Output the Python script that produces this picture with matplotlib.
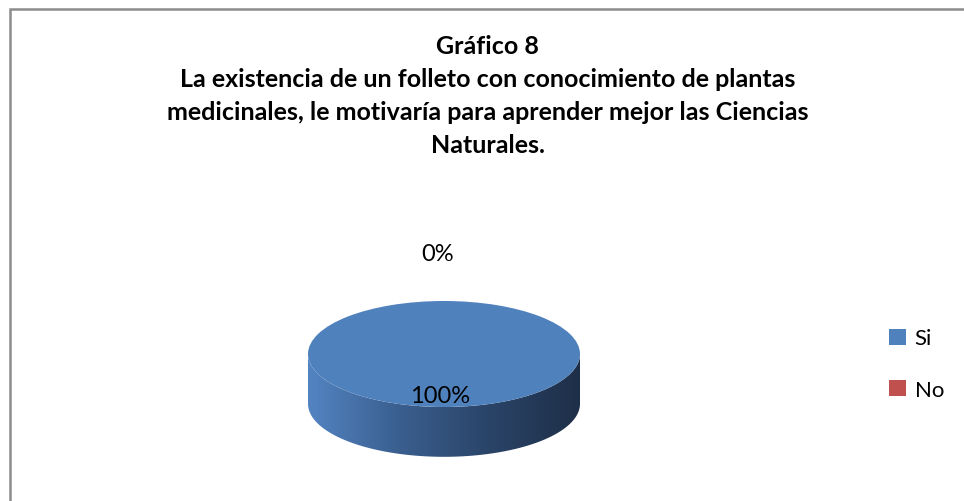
import numpy as np
import matplotlib.pyplot as plt
from matplotlib.patches import Rectangle
from matplotlib.path import Path
from matplotlib.colors import LinearSegmentedColormap

# data
categorias = ['Si', 'No']
valores = [100, 0]
colores = ['#4f81bd', '#c0504d']
titulo = ('Gráfico 8\nLa existencia de un folleto con conocimiento de plantas\n'
          'medicinales, le motivaría para aprender mejor las Ciencias\nNaturales.')

plt.rcParams['font.family'] = ['Lato', 'DejaVu Sans']

fig = plt.figure(figsize=(9.64, 5.02), dpi=100)
fig.patch.set_facecolor('white')

# chart border (left and top edges only visible)
fig.patches.append(Rectangle((9.5 / 964, -0.1), 1.2, 1.1 - 9.5 / 502,
                             transform=fig.transFigure, fill=False,
                             edgecolor='#8c8c8c', linewidth=1.8))

fig.text(0.506, 1 - 35 / 502, titulo, ha='center', va='top', fontsize=18,
         fontweight='bold', linespacing=1.52)

# pie axes: radius 1 maps to the top ellipse of the 3D pie
ax = fig.add_axes([308 / 964, (502 - 460) / 502, 272 / 964, 158 / 502])
depth = 0.94
wedges, texts, autotexts = ax.pie(valores, colors=colores, startangle=90,
                                  counterclock=False, autopct='%1.0f%%',
                                  pctdistance=0.8,
                                  textprops={'fontsize': 17})
ax.set_aspect('auto')
ax.set_xlim(-1, 1)
ax.set_ylim(-1 - (158 - 106) / 53, 1)

# side of the cylinder, with a horizontal gradient
t = np.linspace(np.pi, 2 * np.pi, 100)
xs = np.cos(t)
ys = np.sin(t)
verts = np.concatenate([np.column_stack([xs, ys]),
                        np.column_stack([xs[::-1], ys[::-1] - depth])])
side = Path(np.vstack([verts, verts[:1]]), closed=True)
cmap = LinearSegmentedColormap.from_list('lado', ['#5384c2', '#3a5f8f', '#2a4468', '#1e2f48'])
grad = np.linspace(0, 1, 256).reshape(1, -1)
im = ax.imshow(grad, cmap=cmap, extent=[-1, 1, -1 - depth, 0], aspect='auto', zorder=0)
im.set_clip_path(side, transform=ax.transData)
for w in wedges:
    w.set_zorder(1)

for txt, v in zip(autotexts, valores):
    txt.set_zorder(3)
    if v == 0:
        txt.set_position((-0.05, 1.89))
    else:
        txt.set_position((-0.03, -0.79))

ax.legend(wedges, categorias, loc='center left', bbox_to_anchor=(869 / 964, 1 - 365 / 502),
          bbox_transform=fig.transFigure, frameon=False, fontsize=16,
          handlelength=0.75, handleheight=0.75, handletextpad=0.4, labelspacing=1.4)

fig.savefig('out.png', dpi=100)
